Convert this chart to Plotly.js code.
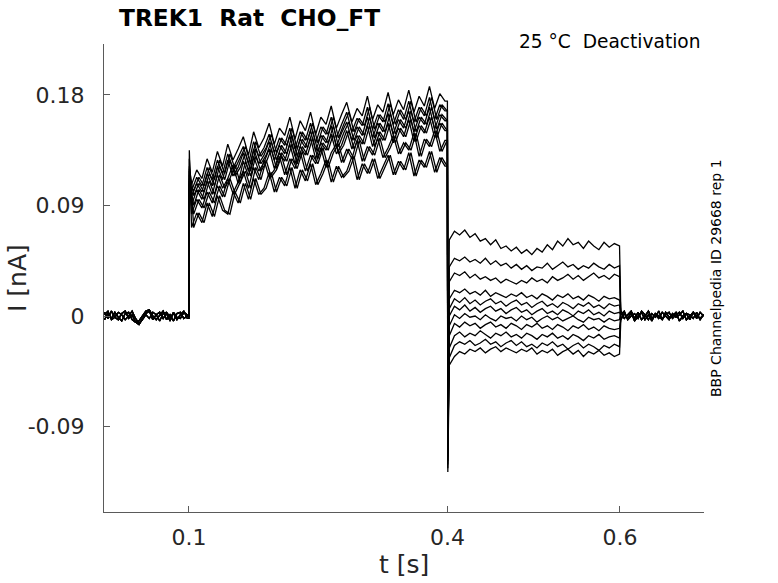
<!DOCTYPE html>
<html>
<head>
<meta charset="utf-8">
<script src="https://cdn.plot.ly/plotly-3.0.1.min.js"></script>
<style>
  html, body { margin: 0; padding: 0; background: #fff; }
  #chart { width: 778px; height: 583px; }
</style>
</head>
<body>
<div id="chart"></div>
<script>
// sample times (s) for each part of the protocol
function steps(start, step, n) {
  return Array.from({length: n}, (_, k) => +(start + k * step).toFixed(5));
}
const tPre = steps(0.002, 0.004, 25);      // holding, before the step
const tActA = steps(0.103, 0.006, 50);     // activating step (sweeps 1-6)
const tActB = steps(0.1055, 0.006, 50);    // activating step (sweeps 7-11, sampled half a step later)
const tTail = steps(0.402, 0.005985, 34);  // tail steps
const tPost = steps(0.601, 0.004, 25);     // back to holding

// baseline current before the step (nA)
const basePre1 = [0.003,-0.002,0.004,-0.001,-0.003,0.002,0.004,-0.002,0.001,-0.005,-0.007,-0.003,0.002,0.004,-0.003,0.001,0.003,-0.002,0.002,-0.004,0.003,-0.001,-0.002,0.003,0.001];
const basePre2 = [-0.003,0.002,-0.002,0.003,-0.001,-0.004,0.002,0.003,-0.003,-0.005,-0.004,0.000,0.004,0.005,0.000,-0.003,0.001,0.004,-0.003,0.001,-0.004,0.002,0.003,-0.002,0.000];
const basePre3 = [0.001,0.004,-0.003,-0.001,0.003,0.001,-0.003,0.000,0.004,-0.002,-0.006,-0.003,0.001,-0.002,0.003,0.001,-0.004,0.002,0.003,-0.001,0.002,-0.003,0.001,0.004,-0.002];

// current during the activating step (nA)
const act1 = [0.072,0.084,0.076,0.092,0.081,0.098,0.086,0.083,0.101,0.092,0.108,0.095,0.112,0.099,0.104,0.117,0.101,0.113,0.106,0.121,0.104,0.119,0.110,0.124,0.107,0.116,0.127,0.109,0.122,0.113,0.118,0.130,0.111,0.124,0.116,0.128,0.112,0.121,0.131,0.115,0.126,0.119,0.133,0.114,0.127,0.121,0.134,0.117,0.129,0.122];
const act2 = [0.083,0.095,0.088,0.101,0.092,0.106,0.097,0.112,0.100,0.109,0.118,0.104,0.121,0.111,0.127,0.113,0.119,0.130,0.115,0.128,0.120,0.134,0.118,0.131,0.124,0.137,0.121,0.133,0.140,0.125,0.136,0.128,0.143,0.126,0.138,0.131,0.145,0.129,0.137,0.147,0.132,0.141,0.135,0.149,0.130,0.144,0.138,0.151,0.134,0.143];
const act3 = [0.090,0.103,0.095,0.110,0.099,0.115,0.104,0.112,0.123,0.108,0.126,0.114,0.130,0.118,0.125,0.136,0.120,0.133,0.126,0.140,0.124,0.138,0.131,0.145,0.128,0.141,0.135,0.148,0.132,0.139,0.151,0.136,0.147,0.140,0.155,0.138,0.150,0.143,0.157,0.141,0.153,0.146,0.160,0.142,0.155,0.149,0.162,0.145,0.157,0.151];
const act4 = [0.098,0.108,0.101,0.116,0.106,0.122,0.111,0.127,0.114,0.121,0.133,0.118,0.136,0.124,0.131,0.142,0.127,0.139,0.132,0.147,0.130,0.144,0.137,0.151,0.134,0.147,0.141,0.155,0.138,0.149,0.158,0.143,0.154,0.147,0.162,0.145,0.157,0.150,0.165,0.148,0.160,0.153,0.167,0.150,0.162,0.156,0.170,0.152,0.164,0.159];
const act5 = [0.102,0.113,0.106,0.121,0.111,0.127,0.116,0.132,0.120,0.129,0.138,0.124,0.142,0.130,0.137,0.148,0.133,0.145,0.139,0.153,0.136,0.150,0.143,0.157,0.141,0.154,0.148,0.162,0.145,0.156,0.166,0.150,0.161,0.155,0.170,0.152,0.164,0.158,0.173,0.156,0.168,0.160,0.175,0.158,0.170,0.163,0.178,0.160,0.172,0.167];
const act6 = [0.107,0.119,0.112,0.128,0.117,0.134,0.122,0.140,0.127,0.136,0.146,0.131,0.150,0.137,0.145,0.157,0.140,0.153,0.147,0.162,0.144,0.159,0.151,0.166,0.148,0.162,0.156,0.171,0.153,0.164,0.174,0.158,0.169,0.163,0.179,0.160,0.172,0.166,0.182,0.164,0.176,0.168,0.184,0.166,0.179,0.171,0.187,0.169,0.181,0.175];

// capacitive peaks at the step onset and at the tail onset (nA), one per sweep
const peakOn = [0.135,0.118,0.110,0.122,0.104,0.115,0.128,0.108,0.112,0.120,0.106];
const peakOff = [-0.127,-0.118,-0.105,-0.112,-0.098,-0.121,-0.092,-0.109,-0.115,-0.101,-0.124];

// tail currents, one per tail voltage (nA)
const tail0 = [0.062,0.069,0.066,0.070,0.064,0.067,0.061,0.063,0.058,0.062,0.055,0.057,0.053,0.056,0.051,0.054,0.050,0.055,0.052,0.058,0.054,0.061,0.057,0.063,0.058,0.060,0.055,0.061,0.057,0.054,0.060,0.056,0.059,0.057];
const tail1 = [0.040,0.047,0.045,0.048,0.044,0.046,0.043,0.047,0.042,0.045,0.041,0.043,0.039,0.042,0.038,0.041,0.037,0.040,0.039,0.043,0.038,0.041,0.044,0.040,0.042,0.038,0.041,0.039,0.043,0.040,0.038,0.042,0.039,0.041];
const tail2 = [0.028,0.035,0.033,0.036,0.031,0.034,0.030,0.032,0.029,0.031,0.027,0.030,0.028,0.026,0.029,0.027,0.031,0.028,0.030,0.027,0.032,0.029,0.031,0.034,0.030,0.033,0.029,0.032,0.035,0.031,0.033,0.030,0.034,0.032];
const tail3 = [0.014,0.021,0.019,0.022,0.018,0.020,0.017,0.021,0.016,0.019,0.017,0.015,0.018,0.016,0.019,0.015,0.017,0.014,0.018,0.016,0.013,0.017,0.015,0.018,0.014,0.016,0.013,0.017,0.015,0.012,0.016,0.014,0.015,0.013];
const tail4 = [0.006,0.014,0.011,0.015,0.010,0.013,0.009,0.012,0.014,0.010,0.012,0.008,0.011,0.013,0.009,0.011,0.007,0.010,0.012,0.008,0.010,0.007,0.011,0.009,0.006,0.010,0.008,0.011,0.007,0.009,0.006,0.010,0.008,0.009];
const tail5 = [0.000,0.008,0.005,0.009,0.004,0.007,0.003,0.006,0.008,0.004,0.006,0.002,0.005,0.007,0.003,0.005,0.001,0.004,0.006,0.002,0.004,0.001,0.005,0.003,0.000,0.004,0.002,0.005,0.001,0.003,0.000,0.004,0.002,0.003];
const tail6 = [-0.008,0.001,-0.002,0.002,-0.001,0.000,-0.003,0.001,-0.002,-0.004,0.000,-0.002,-0.001,-0.004,0.000,-0.003,-0.001,-0.005,-0.002,0.000,-0.003,-0.001,-0.004,-0.002,0.000,-0.003,-0.005,-0.001,-0.003,-0.002,-0.005,-0.002,-0.004,-0.003];
const tail7 = [-0.016,-0.006,-0.009,-0.005,-0.008,-0.006,-0.010,-0.007,-0.005,-0.009,-0.007,-0.010,-0.006,-0.008,-0.011,-0.007,-0.009,-0.006,-0.010,-0.008,-0.011,-0.007,-0.009,-0.012,-0.008,-0.010,-0.007,-0.011,-0.009,-0.012,-0.008,-0.010,-0.011,-0.010];
const tail8 = [-0.026,-0.016,-0.013,-0.017,-0.014,-0.016,-0.012,-0.015,-0.018,-0.014,-0.016,-0.013,-0.017,-0.015,-0.018,-0.014,-0.016,-0.019,-0.015,-0.017,-0.014,-0.018,-0.016,-0.019,-0.015,-0.017,-0.020,-0.016,-0.018,-0.015,-0.019,-0.017,-0.016,-0.018];
const tail9 = [-0.034,-0.024,-0.021,-0.023,-0.020,-0.024,-0.022,-0.019,-0.023,-0.021,-0.025,-0.022,-0.020,-0.024,-0.021,-0.025,-0.023,-0.026,-0.022,-0.024,-0.021,-0.025,-0.023,-0.027,-0.024,-0.022,-0.026,-0.023,-0.025,-0.028,-0.024,-0.026,-0.023,-0.025];
const tail10 = [-0.040,-0.033,-0.029,-0.031,-0.027,-0.029,-0.026,-0.030,-0.027,-0.025,-0.029,-0.026,-0.028,-0.030,-0.027,-0.029,-0.026,-0.031,-0.028,-0.030,-0.027,-0.032,-0.029,-0.027,-0.031,-0.028,-0.033,-0.029,-0.031,-0.028,-0.032,-0.030,-0.033,-0.031];

// back at holding after the tail (nA)
const basePost1 = [0.004,-0.002,0.001,0.004,-0.002,0.003,-0.003,0.000,0.004,-0.002,0.001,-0.002,0.003,0.000,-0.003,0.002,-0.001,0.001,0.004,-0.003,0.000,0.003,-0.002,0.003,0.000];
const basePost2 = [-0.003,0.002,-0.002,0.003,-0.004,0.000,0.003,-0.003,0.001,-0.004,0.002,0.000,-0.003,0.003,-0.001,0.000,0.003,-0.004,0.000,0.002,-0.003,0.003,0.000,-0.002,0.001];
const basePost3 = [0.001,0.004,-0.003,0.000,0.002,-0.002,0.004,0.001,-0.003,0.002,-0.001,0.004,-0.003,0.001,0.003,-0.002,0.001,0.003,-0.002,0.002,0.001,-0.002,0.003,-0.003,0.001];

const xTicks = [0.1, 0.4, 0.6];
const yTicks = [-0.09, 0, 0.09, 0.18];
const yTickText = ['-0.09', '0', '0.09', '0.18'];

// build one line per sweep
const preSets = [basePre1, basePre2, basePre3];
const actSets = [act1, act2, act3, act4, act5, act6];
const tailSets = [tail0, tail1, tail2, tail3, tail4, tail5, tail6, tail7, tail8, tail9, tail10];
const postSets = [basePost1, basePost2, basePost3];

const traces = tailSets.map((tail, i) => {
  const pre = preSets[i % 3];
  const act = actSets[i % 6];
  const tAct = i < 6 ? tActA : tActB;
  const post = postSets[i % 3];
  return {
    x: [...tPre, 0.1, 0.1004, ...tAct, 0.3998, 0.4003, ...tTail, ...tPost],
    y: [...pre, pre[pre.length - 1], peakOn[i], ...act, act[act.length - 1], peakOff[i], ...tail, ...post],
    mode: 'lines',
    line: {color: '#000', width: 1.3},
    hoverinfo: 'skip',
    showlegend: false
  };
});

const font = 'DejaVu Sans, sans-serif';
const axisColor = '#5a5a5a';
const textColor = '#262626';

const layout = {
  width: 778,
  height: 583,
  margin: {l: 104, r: 74, t: 44, b: 71},
  paper_bgcolor: '#fff',
  plot_bgcolor: '#fff',
  showlegend: false,
  font: {family: font, color: textColor},
  xaxis: {
    range: [0.0014, 0.6975],
    tickvals: xTicks,
    ticktext: xTicks.map(String),
    ticks: 'inside',
    ticklen: 6,
    tickcolor: axisColor,
    tickfont: {size: 22, color: textColor},
    ticklabelstandoff: 6,
    showline: true,
    linecolor: axisColor,
    linewidth: 1,
    showgrid: false,
    zeroline: false
  },
  yaxis: {
    range: [-0.1596, 0.2215],
    tickvals: yTicks,
    ticktext: yTickText,
    ticks: 'inside',
    ticklen: 6,
    tickcolor: axisColor,
    tickfont: {size: 22, color: textColor},
    ticklabelstandoff: 14,
    showline: true,
    linecolor: axisColor,
    linewidth: 1,
    showgrid: false,
    zeroline: false
  },
  annotations: [
    {text: '<b>TREK1\u00a0 Rat\u00a0 CHO_FT</b>', xref: 'paper', yref: 'paper',
     x: 0.0217, y: 1.0556, xanchor: 'left', yanchor: 'middle', showarrow: false,
     font: {size: 23.3, color: '#000'}},
    {text: '25 °C\u00a0 Deactivation', xref: 'paper', yref: 'paper',
     x: 0.998, y: 1.0064, xanchor: 'right', yanchor: 'middle', showarrow: false,
     font: {size: 18.6, color: '#000'}},
    {text: 'BBP Channelpedia ID 29668 rep 1', xref: 'paper', yref: 'paper',
     x: 1.02, y: 0.5, xanchor: 'center', yanchor: 'middle', textangle: -90, showarrow: false,
     font: {size: 14, color: '#000'}},
    {text: 'I [nA]', xref: 'paper', yref: 'paper',
     x: -0.145, y: 0.5, xanchor: 'center', yanchor: 'middle', textangle: -90, showarrow: false,
     font: {size: 25, color: textColor}},
    {text: 't [s]', xref: 'paper', yref: 'paper',
     x: 0.5, y: -0.1132, xanchor: 'center', yanchor: 'middle', showarrow: false,
     font: {size: 25, color: textColor}}
  ]
};

Plotly.newPlot('chart', traces, layout, {staticPlot: true, displayModeBar: false});
</script>
</body>
</html>
